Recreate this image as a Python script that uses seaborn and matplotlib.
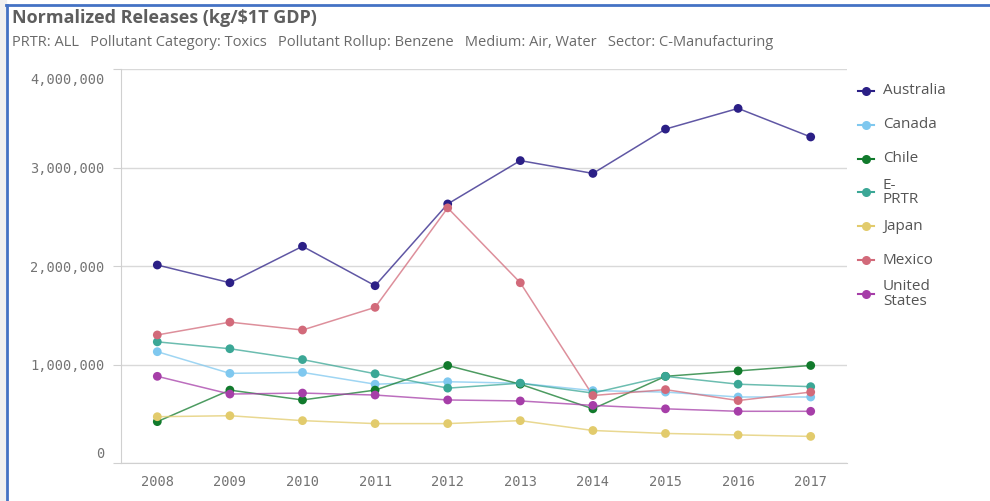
import numpy as np
import pandas as pd
import matplotlib.pyplot as plt
import matplotlib.transforms as mtransforms
import seaborn as sns
from matplotlib.lines import Line2D
from matplotlib.patches import Rectangle
from matplotlib.ticker import FuncFormatter

# Data
years = [2008, 2009, 2010, 2011, 2012, 2013, 2014, 2015, 2016, 2017]
countries = ["Australia", "Canada", "Chile", "E-PRTR", "Japan", "Mexico", "United States"]
legend_labels = ["Australia", "Canada", "Chile", "E-\nPRTR", "Japan", "Mexico", "United\nStates"]
colors = ["#2b1f86", "#7fc8ef", "#117a2c", "#3ba796", "#e2cb6c", "#d26a7a", "#a63ea8"]

australia = [2010000, 1830000, 2200000, 1800000, 2630000, 3070000, 2940000, 3390000, 3600000, 3310000]
canada = [1130000, 910000, 920000, 800000, 825000, 810000, 735000, 720000, 670000, 670000]
chile = [420000, 740000, 640000, 740000, 990000, 800000, 550000, 880000, 935000, 990000]
e_prtr = [1230000, 1160000, 1050000, 906000, 760000, 810000, 710000, 880000, 800000, 775000]
japan = [470000, 480000, 430000, 400000, 400000, 430000, 330000, 300000, 285000, 270000]
mexico = [1300000, 1430000, 1350000, 1580000, 2590000, 1830000, 685000, 745000, 634000, 720000]
united_states = [880000, 700000, 710000, 690000, 640000, 630000, 585000, 550000, 525000, 525000]

series = [australia, canada, chile, e_prtr, japan, mexico, united_states]

df = pd.concat([
    pd.DataFrame({"year": [str(y) for y in years], "pos": range(len(years)),
                  "value": vals, "country": name})
    for name, vals in zip(countries, series)
])
palette = dict(zip(countries, colors))

fig = plt.figure(figsize=(9.9, 5.01), dpi=100)
fig.patch.set_facecolor("white")
ax = fig.add_axes([121 / 990, 1 - 463 / 501, (847 - 121) / 990, (463 - 69) / 501])

sns.lineplot(data=df, x="pos", y="value", hue="country", palette=palette,
             linewidth=1.1, alpha=0.75, legend=False, ax=ax, zorder=2)
sns.scatterplot(data=df, x="pos", y="value", hue="country", palette=palette,
                s=40, linewidth=0, legend=False, ax=ax, zorder=3)

ax.set_xlim(-0.5, len(years) - 0.5)
ax.set_ylim(0, 4000000)
ax.set_xticks(range(len(years)))
ax.set_xticklabels([str(y) for y in years])
ax.set_yticks([0, 1000000, 2000000, 3000000, 4000000])
ax.yaxis.set_major_formatter(FuncFormatter(lambda v, p: f"{int(v):,}"))
ax.set_xlabel("")
ax.set_ylabel("")

ax.grid(axis="y", color="#d9d9d9", linewidth=1)
ax.set_axisbelow(True)
for side in ["top", "right"]:
    ax.spines[side].set_visible(False)
ax.spines["left"].set_color("#d0d0d0")
ax.spines["bottom"].set_color("#d0d0d0")
ax.tick_params(axis="y", length=6, color="#d0d0d0", pad=6, labelsize=9.8, labelcolor="#737373")
ax.tick_params(axis="x", length=0, pad=9, labelsize=9.8, labelcolor="#737373")
for lbl in ax.get_xticklabels() + ax.get_yticklabels():
    lbl.set_family("DejaVu Sans Mono")

# first and last y labels sit inside the plot range, as in the reference
ylabels = ax.get_yticklabels()
ylabels[0].set_transform(ylabels[0].get_transform() +
                         mtransforms.ScaledTranslation(0, 10 / 100, fig.dpi_scale_trans))
ylabels[-1].set_transform(ylabels[-1].get_transform() +
                          mtransforms.ScaledTranslation(0, -10 / 100, fig.dpi_scale_trans))

# legend on the right
for i, (lab, col) in enumerate(zip(legend_labels, colors)):
    y = 1 - (91 + i * 33.8) / 501
    fig.add_artist(Line2D([858 / 990, 874 / 990], [y, y], color=col, linewidth=1.5))
    fig.add_artist(Line2D([866 / 990], [y], color=col, marker="o", markersize=6.5,
                          markeredgewidth=0, linestyle="none"))
    fig.text(883 / 990, y, lab, va="center", ha="left", fontsize=11,
             color="#555555", family="Open Sans", linespacing=0.95)

# titles
fig.text(12 / 990, 1 - 18 / 501, "Normalized Releases (kg/\\$1T GDP)", fontsize=13,
         fontweight="bold", color="#5e5e5e", va="center", ha="left", family="Open Sans")
fig.text(12 / 990, 1 - 43 / 501,
         "PRTR: ALL   Pollutant Category: Toxics   Pollutant Rollup: Benzene   Medium: Air, Water   Sector: C-Manufacturing",
         fontsize=10.5, color="#6a6a6a", va="center", ha="left", family="Open Sans")

# frame of the screenshot
fig.add_artist(Rectangle((0, 0), 6 / 990, 1, transform=fig.transFigure, color="#f0f0f0", zorder=0))
fig.add_artist(Line2D([6 / 990, 1], [1 - 5 / 501, 1 - 5 / 501], color="#4472c4", linewidth=2))
fig.add_artist(Line2D([7 / 990, 7 / 990], [0, 1 - 5 / 501], color="#4472c4", linewidth=2))

fig.savefig("out.png", dpi=100)
